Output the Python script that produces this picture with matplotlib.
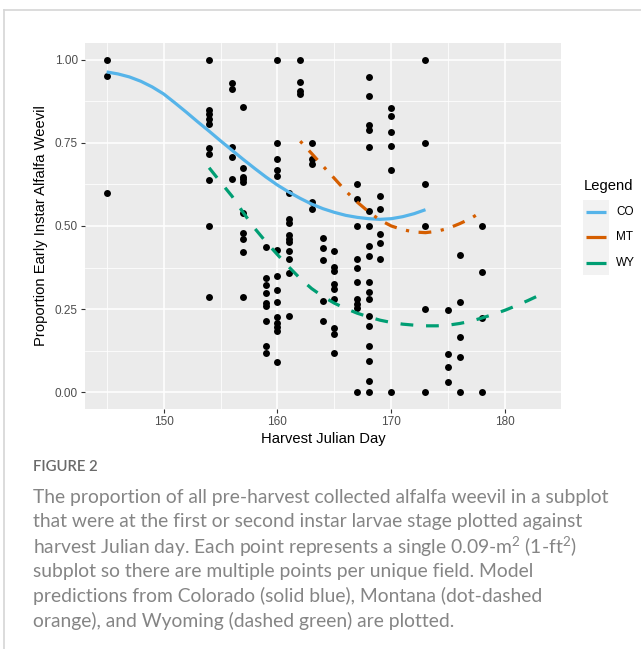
import matplotlib
matplotlib.use("Agg")
import matplotlib.pyplot as plt
from matplotlib.lines import Line2D
from matplotlib.patches import Rectangle

# ---------------- data ----------------
obs_day = ([145] * 3 + [154] * 10 + [156] * 5 + [157] * 10 + [159] * 9 + [160] * 14 +
           [161] * 10 + [162] * 4 + [163] * 5 + [164] * 5 + [165] * 9 + [167] * 10 +
           [168] * 18 + [169] * 5 + [170] * 6 + [173] * 6 + [175] * 4 + [176] * 5 + [178] * 4)
obs_prop = [1.0, 0.95, 0.60,
            1.0, 0.85, 0.837, 0.822, 0.807, 0.735, 0.717, 0.637, 0.50, 0.288,
            0.93, 0.913, 0.738, 0.708, 0.642,
            0.857, 0.673, 0.647, 0.64, 0.632, 0.54, 0.478, 0.462, 0.422, 0.288,
            0.438, 0.343, 0.322, 0.30, 0.268, 0.26, 0.214, 0.14, 0.117,
            1.0, 0.75, 0.70, 0.668, 0.65, 0.428, 0.35, 0.308, 0.273, 0.228, 0.207, 0.195, 0.185, 0.09,
            0.60, 0.52, 0.51, 0.472, 0.462, 0.452, 0.425, 0.40, 0.36, 0.23,
            1.0, 0.932, 0.907, 0.898,
            0.75, 0.70, 0.686, 0.572, 0.55,
            0.463, 0.433, 0.397, 0.275, 0.215,
            0.425, 0.378, 0.365, 0.327, 0.31, 0.282, 0.192, 0.174, 0.117,
            0.625, 0.58, 0.50, 0.40, 0.375, 0.333, 0.28, 0.265, 0.255, 0.0,
            0.947, 0.89, 0.805, 0.79, 0.737, 0.545, 0.50, 0.44, 0.41, 0.333, 0.303, 0.28, 0.23,
            0.20, 0.138, 0.095, 0.035, 0.0,
            0.59, 0.55, 0.477, 0.45, 0.40,
            0.855, 0.832, 0.782, 0.74, 0.667, 0.0,
            1.0, 0.75, 0.625, 0.50, 0.25, 0.0,
            0.248, 0.115, 0.075, 0.032,
            0.412, 0.273, 0.167, 0.105, 0.0,
            0.50, 0.363, 0.222, 0.0]

co_day = list(range(145, 174))
co_pred = [0.963, 0.957, 0.948, 0.935, 0.918, 0.897, 0.870, 0.842, 0.813, 0.785,
           0.756, 0.728, 0.700, 0.673, 0.647, 0.623, 0.602, 0.583, 0.566, 0.552,
           0.541, 0.532, 0.526, 0.522, 0.520, 0.522, 0.528, 0.537, 0.549]

mt_day = list(range(162, 179))
mt_pred = [0.755, 0.718, 0.680, 0.643, 0.605, 0.572, 0.543, 0.518, 0.500, 0.489,
           0.482, 0.480, 0.484, 0.493, 0.507, 0.523, 0.545]

wy_day = list(range(154, 184))
wy_pred = [0.675, 0.632, 0.590, 0.540, 0.493, 0.452, 0.414, 0.377, 0.342, 0.312,
           0.288, 0.268, 0.252, 0.238, 0.227, 0.217, 0.210, 0.205, 0.202, 0.200,
           0.200, 0.202, 0.207, 0.214, 0.224, 0.235, 0.247, 0.261, 0.276, 0.292]

series_names = ["CO", "MT", "WY"]
series_colors = ["#56B4E9", "#D55E00", "#009E73"]

x_ticks = [150, 160, 170, 180]
y_ticks = [0.0, 0.25, 0.50, 0.75, 1.00]
y_ticklabels = ["0.00", "0.25", "0.50", "0.75", "1.00"]

caption_head = "FIGURE 2"
caption_lines = [
    "The proportion of all pre-harvest collected alfalfa weevil in a subplot",
    "that were at the first or second instar larvae stage plotted against",
    "harvest Julian day. Each point represents a single 0.09-m$^{2}$ (1-ft$^{2}$)",
    "subplot so there are multiple points per unique field. Model",
    "predictions from Colorado (solid blue), Montana (dot-dashed",
    "orange), and Wyoming (dashed green) are plotted.",
]

# ---------------- figure ----------------
W, H = 641, 649
DPI = 100
plt.rcParams['font.family'] = ['Liberation Sans', 'DejaVu Sans']
plt.rcParams['mathtext.fontset'] = 'custom'
plt.rcParams['mathtext.rm'] = 'Lato'
plt.rcParams['mathtext.it'] = 'Lato'

fig = plt.figure(figsize=(W / DPI, H / DPI), dpi=DPI)
fig.patch.set_facecolor("white")

def fx(px):
    return px / W

def fy(py):
    return 1 - py / H

# card border (top and left)
fig.add_artist(Line2D([fx(4), 1], [fy(10), fy(10)], color="#d6d6d6", lw=1.2))
fig.add_artist(Line2D([fx(4), fx(4)], [fy(10), 0], color="#d6d6d6", lw=1.2))

ax = fig.add_axes([fx(85), fy(409), fx(561) - fx(85), fy(43) - fy(409)])
ax.set_facecolor("#EBEBEB")
for s in ax.spines.values():
    s.set_visible(False)

ax.set_xlim(145 - 0.05 * 38, 183 + 0.05 * 38)
ax.set_ylim(-0.05, 1.05)
ax.set_xticks(x_ticks)
ax.set_xticks([145, 155, 165, 175], minor=True)
ax.set_yticks(y_ticks)
ax.set_yticklabels(y_ticklabels)
ax.set_yticks([0.125, 0.375, 0.625, 0.875], minor=True)
ax.grid(which="major", color="white", lw=1.1)
ax.grid(which="minor", color="white", lw=0.55)
ax.set_axisbelow(True)
ax.tick_params(which="major", length=2.9, width=0.8, color="#333333",
               labelcolor="#4D4D4D", labelsize=8.5, pad=2.2)
ax.tick_params(which="minor", length=0)

ax.set_xlabel("Harvest Julian Day", fontsize=10.6, color="black", labelpad=3)
ax.set_ylabel("Proportion Early Instar Alfalfa Weevil", fontsize=10.6, color="black", labelpad=5)

ax.scatter(obs_day, obs_prop, s=25, color="black", zorder=3, linewidths=0)

lw = 2.3
ax.plot(co_day, co_pred, color=series_colors[0], lw=lw, solid_capstyle="butt",
        solid_joinstyle="round", zorder=4)
ax.plot(mt_day, mt_pred, color=series_colors[1], lw=lw, linestyle=(0, (1, 3, 4, 3)),
        dash_capstyle="butt", zorder=4)
ax.plot(wy_day, wy_pred, color=series_colors[2], lw=lw, linestyle=(0, (4, 4)),
        dash_capstyle="butt", zorder=4)

# ---------------- legend ----------------
fig.text(fx(584), fy(186), "Legend", fontsize=10.6, color="black", va="center", ha="left")
for i, (name, col) in enumerate(zip(series_names, series_colors)):
    top = 200 + 25 * i
    fig.add_artist(Rectangle((fx(583), fy(top + 25)), fx(26), 25 / H,
                             facecolor="#F2F2F2", edgecolor="none"))
    cy = top + 12.5
    fig.add_artist(Line2D([fx(586), fx(606)], [fy(cy), fy(cy)], color=col, lw=lw,
                          linestyle="-", solid_capstyle="butt"))
    fig.text(fx(616), fy(cy), name, fontsize=8.5, color="black", va="center", ha="left")

# ---------------- caption ----------------
fig.text(fx(33), fy(467), caption_head, fontsize=10.7, color="#6a6a6a", fontweight="semibold",
         family=["Lato", "DejaVu Sans"], va="center", ha="left")
line_y = [497.5, 522, 546.5, 571.5, 596, 620.5]
for ly, txt in zip(line_y, caption_lines):
    fig.text(fx(33), fy(ly), txt, fontsize=13.9, color="#858585", fontweight="normal",
             family=["Lato", "DejaVu Sans"], va="center", ha="left")

fig.savefig("out.png", dpi=DPI, facecolor="white")
